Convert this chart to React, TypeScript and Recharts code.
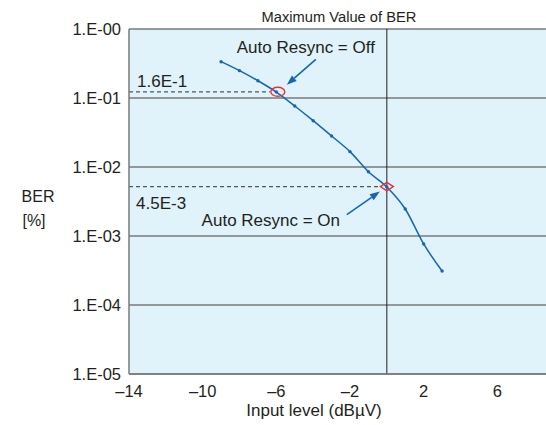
import React from "react";
import {
  LineChart,
  Line,
  XAxis,
  YAxis,
  CartesianGrid,
  ReferenceLine,
  ReferenceDot,
} from "recharts";

// input level (dBµV)
const levels = [-9, -8, -7, -6, -5, -4, -3, -2, -1, 0, 1, 2, 3];
// BER
const berValues = [
  0.336, 0.249, 0.178, 0.122, 0.0766, 0.0469, 0.0281, 0.0167, 0.00855, 0.00513,
  0.00246, 0.000766, 0.000311,
];
const xTicks = [-14, -10, -6, -2, 2, 6];
const yTicks = [1, 0.1, 0.01, 0.001, 0.0001, 0.00001];

// marked points
const offPoint = { x: -6, y: 0.123 };
const onPoint = { x: 0, y: 0.0052 };
const maxBerLevel = 0;

const data = levels.map((x, i) => ({ x, ber: berValues[i] }));

const BLUE = "#1467b4";
const RED = "#e8303a";
const INK = "#231f20";
const FONT = "'Liberation Sans', Arial, sans-serif";

const fmtY = (v: number) =>
  "1.E-" + String(Math.round(-Math.log10(v))).padStart(2, "0");
const fmtX = (v: number) => (v < 0 ? "\u2013" + Math.abs(v) : String(v));

function arrow(x1: number, y1: number, x2: number, y2: number) {
  const a = Math.atan2(y2 - y1, x2 - x1);
  const len = 10;
  const w = 3.6;
  const bx = x2 - len * Math.cos(a);
  const by = y2 - len * Math.sin(a);
  const px = -Math.sin(a) * w;
  const py = Math.cos(a) * w;
  return (
    <g>
      <line x1={x1} y1={y1} x2={bx} y2={by} stroke={BLUE} strokeWidth={1.6} />
      <polygon
        points={`${x2},${y2} ${bx + px},${by + py} ${bx - px},${by - py}`}
        fill={BLUE}
      />
    </g>
  );
}

function OffMarker(props: any) {
  const { cx, cy } = props;
  if (cx == null || cy == null) return null;
  const x = cx + 1.5;
  return (
    <g>
      <ellipse cx={x} cy={cy} rx={7} ry={4.5} fill="none" stroke={RED} strokeWidth={1.4} />
      {arrow(x + 38, cy - 32.5, x + 9, cy - 7)}
      <text x={x + 28} y={cy - 39} textAnchor="middle" fontSize={17} fill={INK} fontFamily={FONT}>
        Auto Resync = Off
      </text>
    </g>
  );
}

function OnMarker(props: any) {
  const { cx, cy } = props;
  if (cx == null || cy == null) return null;
  return (
    <g>
      <polygon
        points={`${cx - 6.5},${cy} ${cx},${cy - 4.3} ${cx + 6.5},${cy} ${cx},${cy + 4.3}`}
        fill="none"
        stroke={RED}
        strokeWidth={1.4}
      />
      {arrow(cx - 40, cy + 28, cx - 7, cy + 5)}
      <text x={cx - 116} y={cy + 39} textAnchor="middle" fontSize={17} fill={INK} fontFamily={FONT}>
        Auto Resync = On
      </text>
    </g>
  );
}

function Dot(props: any) {
  const { cx, cy } = props;
  if (cx == null || cy == null) return null;
  return <circle cx={cx} cy={cy} r={1.7} fill={BLUE} />;
}

export default function App() {
  return (
    <div
      style={{
        position: "absolute",
        left: 0,
        top: 0,
        width: 546,
        height: 425,
        overflow: "hidden",
        background: "#fff",
        fontFamily: FONT,
      }}
    >
      <LineChart
        width={580}
        height={425}
        data={data}
        margin={{ top: 29, right: 9, bottom: 0, left: 0 }}
      >
        <CartesianGrid
          vertical={false}
          fill="#e0f2fa"
          fillOpacity={1}
          stroke="#7a7a7a"
          strokeWidth={1.5}
        />
        <XAxis
          dataKey="x"
          type="number"
          domain={[-14, 10]}
          ticks={xTicks}
          interval={0}
          tickFormatter={fmtX}
          tickLine={false}
          tickMargin={5}
          axisLine={{ stroke: "#7a7a7a", strokeWidth: 1.5 }}
          tick={{ fill: INK, fontSize: 16.5, fontFamily: FONT }}
          height={51}
        />
        <YAxis
          type="number"
          scale="log"
          domain={[0.00001, 1]}
          ticks={yTicks}
          interval={0}
          tickFormatter={fmtY}
          tickLine={false}
          axisLine={{ stroke: "#7a7a7a", strokeWidth: 1.5 }}
          tick={{ fill: INK, fontSize: 16.5, fontFamily: FONT }}
          width={129}
        />
        <ReferenceLine x={maxBerLevel} stroke={INK} strokeWidth={1} />
        <ReferenceLine
          segment={[
            { x: -14, y: offPoint.y },
            { x: offPoint.x - 0.35, y: offPoint.y },
          ]}
          stroke="#555"
          strokeWidth={1.2}
          strokeDasharray="4 3"
        />
        <ReferenceLine
          segment={[
            { x: -14, y: onPoint.y },
            { x: onPoint.x - 0.35, y: onPoint.y },
          ]}
          stroke="#555"
          strokeWidth={1.2}
          strokeDasharray="4 3"
        />
        <Line
          type="monotone"
          dataKey="ber"
          stroke={BLUE}
          strokeWidth={1.5}
          dot={<Dot />}
          activeDot={false}
          isAnimationActive={false}
        />
        <ReferenceDot x={offPoint.x} y={offPoint.y} shape={<OffMarker />} />
        <ReferenceDot x={onPoint.x} y={onPoint.y} shape={<OnMarker />} />
      </LineChart>
      <svg
        width={546}
        height={425}
        style={{ position: "absolute", left: 0, top: 0, pointerEvents: "none" }}
        fontFamily={FONT}
        fill={INK}
      >
        <text x={339} y={21.5} textAnchor="middle" fontSize={14.7}>
          Maximum Value of BER
        </text>
        <text x={38} y={201.5} textAnchor="middle" fontSize={16}>
          BER
        </text>
        <text x={34} y={226} textAnchor="middle" fontSize={16}>
          [%]
        </text>
        <text x={137} y={86.5} fontSize={17}>
          1.6E-1
        </text>
        <text x={136} y={209} fontSize={17}>
          4.5E-3
        </text>
        <text x={314} y={416} textAnchor="middle" fontSize={17}>
          Input level (dBµV)
        </text>
      </svg>
    </div>
  );
}
